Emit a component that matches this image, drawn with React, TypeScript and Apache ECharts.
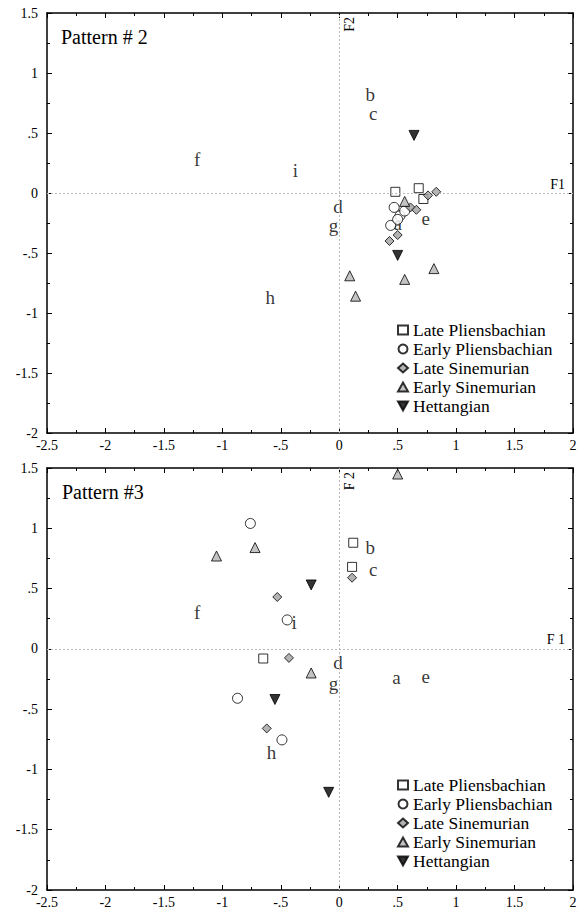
import React, { useEffect, useRef } from "react";
import * as echarts from "echarts";

// ---------- data ----------
const seriesNames = [
  "Late Pliensbachian",
  "Early Pliensbachian",
  "Late Sinemurian",
  "Early Sinemurian",
  "Hettangian",
];

// Pattern # 2 (top panel)
const p2LatePliensX = [0.48, 0.68, 0.72];
const p2LatePliensY = [0.01, 0.04, -0.05];
const p2EarlyPliensX = [0.47, 0.52, 0.56, 0.44, 0.5];
const p2EarlyPliensY = [-0.12, -0.19, -0.15, -0.27, -0.22];
const p2LateSinX = [0.61, 0.66, 0.76, 0.83, 0.43, 0.5];
const p2LateSinY = [-0.12, -0.14, -0.02, 0.01, -0.4, -0.35];
const p2EarlySinX = [0.56, 0.09, 0.14, 0.56, 0.81];
const p2EarlySinY = [-0.07, -0.69, -0.86, -0.72, -0.63];
const p2HettX = [0.64, 0.5];
const p2HettY = [0.48, -0.52];

// Pattern #3 (bottom panel)
const p3LatePliensX = [0.12, 0.11, -0.65];
const p3LatePliensY = [0.88, 0.68, -0.08];
const p3EarlyPliensX = [-0.76, -0.445, -0.87, -0.49];
const p3EarlyPliensY = [1.04, 0.24, -0.41, -0.755];
const p3LateSinX = [0.11, -0.53, -0.43, -0.62];
const p3LateSinY = [0.59, 0.43, -0.075, -0.66];
const p3EarlySinX = [0.5, -1.05, -0.72, -0.24];
const p3EarlySinY = [1.45, 0.77, 0.84, -0.2];
const p3HettX = [-0.24, -0.55, -0.09];
const p3HettY = [0.53, -0.42, -1.19];

// variable letters
const letterNames = ["a", "b", "c", "d", "e", "f", "g", "h", "i"];
const p2LetterX = [0.5, 0.265, 0.29, -0.01, 0.74, -1.215, -0.05, -0.59, -0.376];
const p2LetterY = [-0.25, 0.82, 0.66, -0.11, -0.21, 0.28, -0.27, -0.87, 0.19];
const p3LetterX = [0.49, 0.265, 0.29, -0.01, 0.74, -1.215, -0.05, -0.58, -0.385];
const p3LetterY = [-0.24, 0.84, 0.655, -0.11, -0.23, 0.3, -0.29, -0.86, 0.215];

const panelTitles = ["Pattern # 2", "Pattern #3"];
const f1Labels = ["F1", "F 1"];
const f2Labels = ["F2", "F 2"];

const FONT = '"Liberation Serif", "Times New Roman", serif';

const zip = (xs: number[], ys: number[]) => xs.map((x, i) => [x, ys[i]]);

const fmt = (v: number) => {
  const s = String(Math.round(v * 100) / 100);
  return s.replace(/^(-?)0\./, "$1.");
};

const styles: any[] = [
  { symbol: "rect", symbolSize: 9, itemStyle: { color: "#fff", borderColor: "#000", borderWidth: 1 } },
  { symbol: "circle", symbolSize: 10, itemStyle: { color: "#fff", borderColor: "#000", borderWidth: 1 } },
  { symbol: "diamond", symbolSize: 9, itemStyle: { color: "#a0a0a0", borderColor: "#000", borderWidth: 1 } },
  { symbol: "triangle", symbolSize: 10, itemStyle: { color: "#b4b4b4", borderColor: "#000", borderWidth: 1 } },
  { symbol: "triangle", symbolSize: 10, symbolRotate: 180, itemStyle: { color: "#000", borderColor: "#000", borderWidth: 1 } },
];

const legendIcons = [
  "rect",
  "circle",
  "diamond",
  "triangle",
  "path://M0,0 L10,0 L5,9 Z",
];

export default function App() {
  const ref = useRef<HTMLDivElement>(null);

  useEffect(() => {
    if (!ref.current) return;
    const chart = echarts.init(ref.current, undefined, { renderer: "svg" });

    const panels = [
      {
        data: [
          zip(p2LatePliensX, p2LatePliensY),
          zip(p2EarlyPliensX, p2EarlyPliensY),
          zip(p2LateSinX, p2LateSinY),
          zip(p2EarlySinX, p2EarlySinY),
          zip(p2HettX, p2HettY),
        ],
        letters: letterNames.map((n, i) => ({ name: n, value: [p2LetterX[i], p2LetterY[i]] })),
      },
      {
        data: [
          zip(p3LatePliensX, p3LatePliensY),
          zip(p3EarlyPliensX, p3EarlyPliensY),
          zip(p3LateSinX, p3LateSinY),
          zip(p3EarlySinX, p3EarlySinY),
          zip(p3HettX, p3HettY),
        ],
        letters: letterNames.map((n, i) => ({ name: n, value: [p3LetterX[i], p3LetterY[i]] })),
      },
    ];

    const grids = [
      { left: 47, top: 13, width: 526, height: 420 },
      { left: 47, top: 468, width: 526, height: 422 },
    ];

    const axisLine = { show: true, onZero: false, lineStyle: { color: "#000", width: 1.5 } };
    const axisTick = { show: true, inside: true, length: 5, lineStyle: { color: "#000", width: 1 } };
    const minorTick = { show: true, splitNumber: 2, length: 3, lineStyle: { color: "#000", width: 1 } };
    const axisLabelBase = { color: "#000", fontSize: 14, fontFamily: FONT, formatter: fmt };

    const xAxis: any[] = [];
    const yAxis: any[] = [];
    grids.forEach((_, gi) => {
      xAxis.push({
        type: "value", gridIndex: gi, min: -2.5, max: 2, interval: 0.5, position: "bottom",
        axisLine, axisTick, minorTick, splitLine: { show: false },
        axisLabel: { ...axisLabelBase, margin: 5 },
      });
      xAxis.push({
        type: "value", gridIndex: gi, min: -2.5, max: 2, interval: 0.5, position: "top",
        axisLine, axisTick, minorTick, splitLine: { show: false }, axisLabel: { show: false },
      });
      yAxis.push({
        type: "value", gridIndex: gi, min: -2, max: 1.5, interval: 0.5, position: "left",
        axisLine, axisTick, minorTick, splitLine: { show: false },
        axisLabel: { ...axisLabelBase, margin: 9 },
      });
      yAxis.push({
        type: "value", gridIndex: gi, min: -2, max: 1.5, interval: 0.5, position: "right",
        axisLine, axisTick, minorTick, splitLine: { show: false }, axisLabel: { show: false },
      });
    });

    const series: any[] = [];
    panels.forEach((p, pi) => {
      const xi = pi * 2;
      const yi = pi * 2;
      series.push({
        type: "scatter",
        name: "letters" + pi,
        xAxisIndex: xi,
        yAxisIndex: yi,
        symbolSize: 1,
        itemStyle: { color: "rgba(0,0,0,0)" },
        silent: true,
        data: p.letters,
        label: {
          show: true,
          position: "inside",
          formatter: "{b}",
          color: "#000",
          textBorderWidth: 0,
          fontSize: 19,
          lineHeight: 15,
          fontFamily: FONT,
        },
        markLine: {
          silent: true,
          symbol: ["none", "none"],
          lineStyle: { color: "#b8b8b8", type: [2, 2], width: 1 },
          label: { color: "#000", fontSize: 14, fontFamily: FONT },
          data: [
            { yAxis: 0, label: { show: true, formatter: f1Labels[pi], position: "insideEndTop", distance: [8, 2] } },
            { xAxis: 0, label: { show: true, formatter: f2Labels[pi], position: "insideEndBottom", distance: [4, 3] } },
          ],
        },
        z: 1,
      });
      seriesNames.forEach((name, si) => {
        series.push({
          type: "scatter",
          name,
          xAxisIndex: xi,
          yAxisIndex: yi,
          ...styles[si],
          data: p.data[si],
          z: 3,
        });
      });
    });

    const legendBase = {
      orient: "vertical",
      left: 397,
      itemWidth: 10,
      itemHeight: 9,
      itemGap: 1,
      padding: 0,
      textStyle: { color: "#000", fontSize: 17.5, fontFamily: FONT },
      data: seriesNames.map((n, i) => ({ name: n, icon: legendIcons[i] })),
      selectedMode: false,
    };

    chart.setOption({
      animation: false,
      backgroundColor: "#fff",
      title: [
        { text: panelTitles[0], left: 61, top: 27, padding: 0, textStyle: { fontSize: 20, fontWeight: "normal", color: "#000", fontFamily: FONT } },
        { text: panelTitles[1], left: 62, top: 482, padding: 0, textStyle: { fontSize: 20, fontWeight: "normal", color: "#000", fontFamily: FONT } },
      ],
      grid: grids,
      xAxis,
      yAxis,
      legend: [
        { ...legendBase, top: 321 },
        { ...legendBase, top: 776 },
      ],
      series,
    });

    return () => chart.dispose();
  }, []);

  return (
    <div
      ref={ref}
      style={{ position: "absolute", left: 0, top: 0, width: 581, height: 915 }}
    />
  );
}
